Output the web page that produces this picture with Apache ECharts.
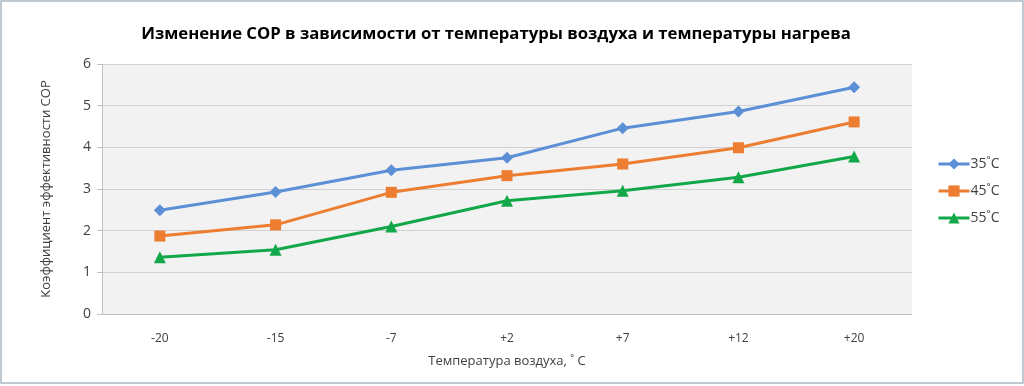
<!DOCTYPE html>
<html><head><meta charset="utf-8">
<script src="https://cdn.jsdelivr.net/npm/echarts@6/dist/echarts.min.js"></script>
<style>html,body{margin:0;padding:0;background:#fff}#c{width:1024px;height:386px}</style>
</head><body><div id="c"></div>
<script>
const categories = ['-20','-15','-7','+2','+7','+12','+20'];
const s35 = [2.49, 2.93, 3.45, 3.75, 4.46, 4.86, 5.44];
const s45 = [1.87, 2.14, 2.92, 3.32, 3.60, 3.99, 4.61];
const s55 = [1.36, 1.54, 2.10, 2.72, 2.96, 3.28, 3.78];
const seriesNames = ['35\u02DAC','45\u02DAC','55\u02DAC'];
const yTicks = [0,1,2,3,4,5,6];

const chart = echarts.init(document.getElementById('c'), null, {renderer:'canvas'});
const font = "'Open Sans', 'Noto Sans', sans-serif";
function ser(name, data, color, symbol, size){
  return {name, type:'line', data, color, symbol, symbolSize:size,
    lineStyle:{width:3, color}, itemStyle:{color}, showSymbol:true};
}
chart.setOption({
  animation:false,
  textStyle:{fontFamily:font},
  title:{text:'Изменение СОР в зависимости от температуры воздуха и температуры нагрева',
    left:491, textAlign:'center', top:21,
    textStyle:{fontSize:16.7, fontWeight:'bold', color:'#000', fontFamily:font}},
  graphic:[{type:'rect', shape:{x:1,y:1,width:1022,height:382}, style:{fill:null, stroke:'#a9b8c2', lineWidth:1.5}, silent:true}],
  legend:{orient:'vertical', left:932, top:152, itemGap:13, itemWidth:31, itemHeight:14,
    lineStyle:{width:3},
    textStyle:{fontSize:14, color:'#404040', fontFamily:font, padding:[0,0,0,-4]},
    data:seriesNames},
  grid:{left:102, right:112, top:64, bottom:72, show:true, backgroundColor:'#f2f2f2', borderWidth:0},
  xAxis:{type:'category', data:categories, boundaryGap:true,
    name:'Температура воздуха, \u02DA С', nameLocation:'middle', nameGap:41,
    nameTextStyle:{fontSize:13, color:'#404040'},
    axisLine:{lineStyle:{color:'#bfbfbf', width:1}}, axisTick:{show:false},
    axisLabel:{fontSize:12, color:'#404040', margin:19}},
  yAxis:{type:'value', min:0, max:6, interval:1,
    name:'Коэффициент эффективности СОР', nameLocation:'middle', nameGap:49, nameRotate:90,
    nameTextStyle:{fontSize:13, color:'#404040'},
    axisLine:{show:true, lineStyle:{color:'#bfbfbf'}}, axisTick:{show:true, length:5, lineStyle:{color:'#bfbfbf'}},
    axisLabel:{fontSize:14, color:'#404040', margin:11, formatter:v=>yTicks.includes(v)?String(v):''},
    splitLine:{lineStyle:{color:'#d0d0d0', width:1}}},
  series:[
    ser(seriesNames[0], s35, '#5B8FD6', 'diamond', 12),
    ser(seriesNames[1], s45, '#ED7D31', 'rect', 11),
    ser(seriesNames[2], s55, '#12A84A', 'triangle', 12)
  ]
});
</script></body></html>
